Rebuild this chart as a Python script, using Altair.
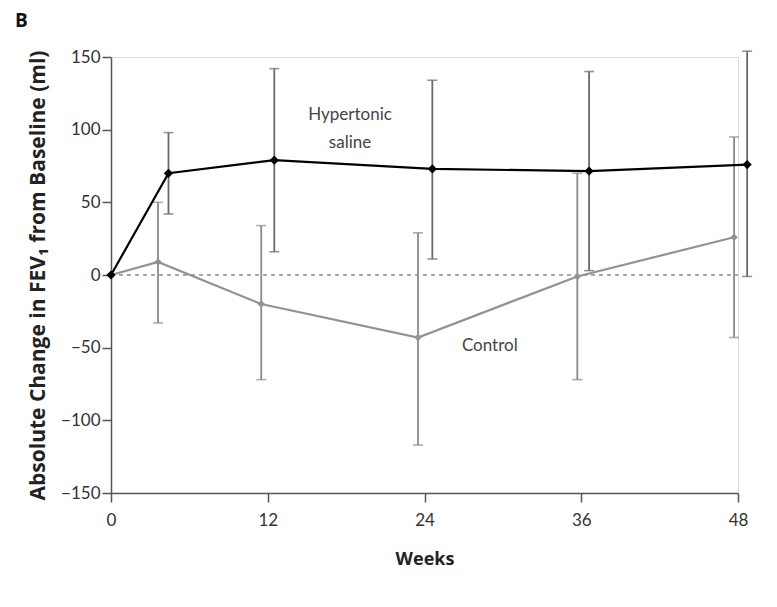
import altair as alt
import pandas as pd

# Hypertonic saline (x positions dodged as drawn)
hs_week = [0, 4.4, 12.5, 24.6, 36.6, 48.7]
hs_mean = [0, 70, 79, 73, 71.5, 76]
hs_lo = [None, 42, 16, 11, 3, -1]
hs_hi = [None, 98, 142, 134, 140, 154]

# Control
ct_week = [0, 3.6, 11.5, 23.5, 35.7, 47.7]
ct_mean = [0, 9, -20, -43, -1, 26]
ct_lo = [None, -33, -72, -117, -72, -43]
ct_hi = [None, 50, 34, 29, 70, 95]

x_ticks = [0, 12, 24, 36, 48]
y_ticks = [-150, -100, -50, 0, 50, 100, 150]

hs = pd.DataFrame({"week": hs_week, "mean": hs_mean, "lo": hs_lo, "hi": hs_hi})
ct = pd.DataFrame({"week": ct_week, "mean": ct_mean, "lo": ct_lo, "hi": ct_hi})
hs_e = hs.dropna()
ct_e = ct.dropna()

FONT = "Lato"
TFONT = "Open Sans"
xs = alt.Scale(domain=[0, 48], nice=False, zero=False)
ys = alt.Scale(domain=[-150, 150], nice=False)

X = alt.X("week:Q", scale=xs, axis=alt.Axis(
    values=x_ticks, title="Weeks", grid=False, domainColor="#555", domainWidth=1.5,
    tickColor="#555", tickWidth=1.5, tickSize=9, labelFont=FONT, labelFontSize=17,
    labelColor="#333", labelPadding=10, labelFlush=False, titleFont=TFONT, titleFontSize=18,
    titleFontWeight="bold", titleColor="#222", titlePadding=22))
Y = alt.Y("mean:Q", scale=ys, axis=alt.Axis(
    values=y_ticks, title="Absolute Change in FEV\u2081 from Baseline (ml)", grid=False,
    domainColor="#555", domainWidth=1.5, tickColor="#555", tickWidth=1.5, tickSize=9,
    labelFont=FONT, labelFontSize=17, labelColor="#333", labelPadding=2, labelFlush=False,
    titleFont=TFONT, titleFontSize=21, titleFontWeight="bold", titleColor="#222",
    titlePadding=12))

zero = alt.Chart(pd.DataFrame({"week": [0], "week2": [48], "y": [0]})).mark_rule(
    strokeDash=[4, 4], color="#555", strokeWidth=1.2).encode(
    x=alt.X("week:Q", scale=xs), x2="week2:Q", y=alt.Y("y:Q", scale=ys))

def errs(df, color):
    r = alt.Chart(df).mark_rule(color=color, strokeWidth=1.8, clip=False).encode(
        x=alt.X("week:Q", scale=xs), y=alt.Y("lo:Q", scale=ys), y2="hi:Q")
    t1 = alt.Chart(df).mark_tick(color=color, orient="horizontal", size=10, thickness=1.6).encode(
        x=alt.X("week:Q", scale=xs), y=alt.Y("lo:Q", scale=ys))
    t2 = alt.Chart(df).mark_tick(color=color, orient="horizontal", size=10, thickness=1.6).encode(
        x=alt.X("week:Q", scale=xs), y=alt.Y("hi:Q", scale=ys))
    return r + t1 + t2

ct_line = alt.Chart(ct).mark_line(color="#929292", strokeWidth=2.2).encode(x=X, y=Y)
ct_pts = alt.Chart(ct).mark_point(shape="diamond", filled=True, color="#929292", size=55, opacity=1).encode(
    x=alt.X("week:Q", scale=xs), y=alt.Y("mean:Q", scale=ys))
hs_line = alt.Chart(hs).mark_line(color="#000000", strokeWidth=2.2).encode(
    x=alt.X("week:Q", scale=xs), y=alt.Y("mean:Q", scale=ys))
hs_pts = alt.Chart(hs).mark_point(shape="diamond", filled=True, color="#000000", size=85, opacity=1).encode(
    x=alt.X("week:Q", scale=xs), y=alt.Y("mean:Q", scale=ys))

labels = alt.Chart(pd.DataFrame({
    "week": [18.3, 29.0], "y": [110, -49],
    "t": [["Hypertonic", "saline"], ["Control"]]})).mark_text(
    font=FONT, fontSize=17, color="#444", lineHeight=28, baseline="middle").encode(
    x=alt.X("week:Q", scale=xs), y=alt.Y("y:Q", scale=ys), text="t")

panel = alt.Chart(pd.DataFrame({"t": ["B"]})).mark_text(
    font=TFONT, fontSize=19, fontWeight="bold", color="#111", align="left", baseline="middle").encode(
    x=alt.value(-96), y=alt.value(-36), text="t:N")

chart = alt.layer(
    zero, errs(ct_e, "#8a8a8a"), ct_line, ct_pts, errs(hs_e, "#6a6a6a"), hs_line, hs_pts, labels, panel
).properties(
    width=627, height=436,
    autosize=alt.AutoSizeParams(type="none"),
    padding={"left": 103, "top": 49, "right": 30, "bottom": 112},
).configure_view(stroke=None).configure(background="white")

chart.save("out.html", embed_options={"renderer": "svg", "actions": False})
